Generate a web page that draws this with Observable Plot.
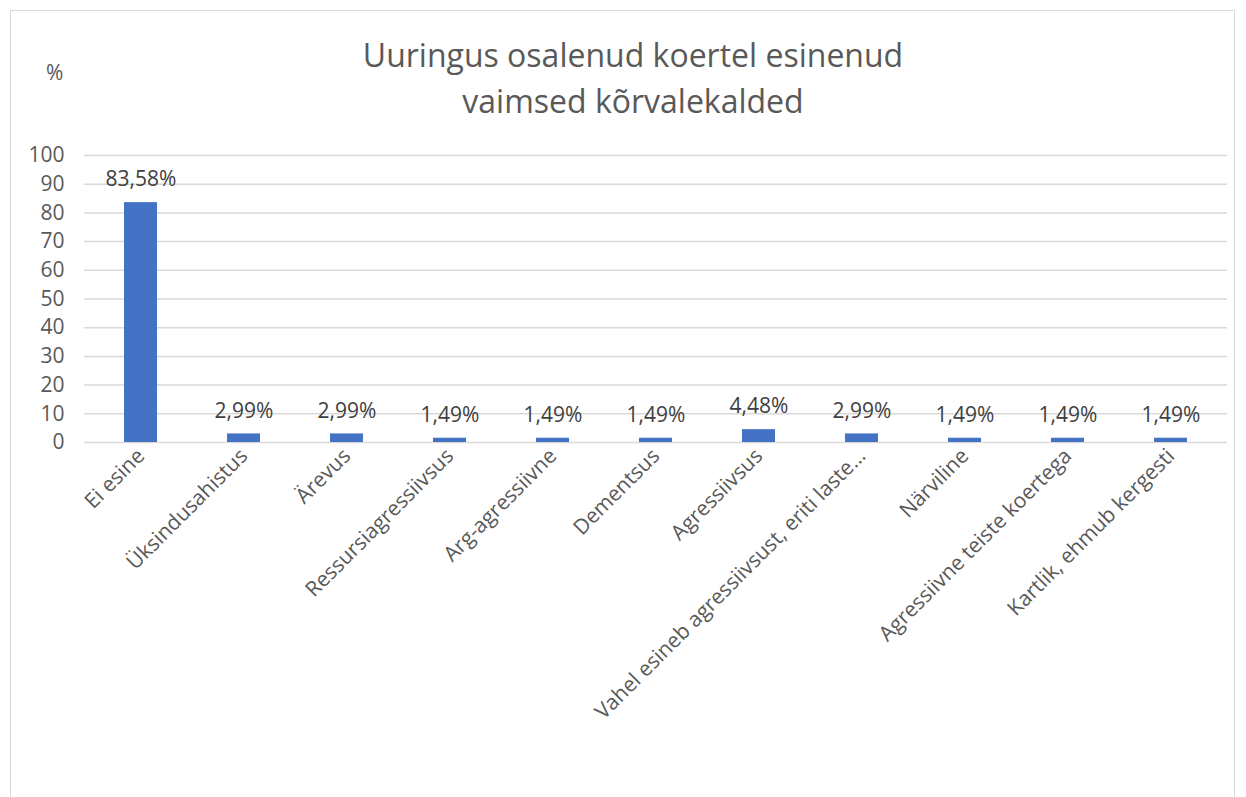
<!DOCTYPE html>
<html>
<head>
<meta charset="utf-8">
<script src="https://cdn.jsdelivr.net/npm/d3@7"></script>
<script src="https://cdn.jsdelivr.net/npm/@observablehq/plot@0.6"></script>
<style>
  html, body { margin: 0; padding: 0; background: #fff; }
  #wrap { position: relative; width: 1246px; height: 797px; overflow: hidden; font-family: "Open Sans", sans-serif; }
  #border { position: absolute; left: 10px; top: 10px; width: 1225px; height: 800px; border: 1px solid #d9d9d9; box-sizing: border-box; }
  #title { position: absolute; left: 0; width: 1266px; top: 32px; text-align: center; font-size: 32px; line-height: 46px; color: #595959; font-weight: 400; }
  #unit { position: absolute; left: 46px; top: 58px; font-size: 21px; color: #595959; }
  #chart { position: absolute; left: 0; top: 0; }
</style>
</head>
<body>
<div id="wrap">
  <div id="border"></div>
  <div id="chart"></div>
  <div id="title">Uuringus osalenud koertel esinenud<br>vaimsed kõrvalekalded</div>
  <div id="unit">%</div>
</div>
<script>
const categories = [
  "Ei esine",
  "Üksindusahistus",
  "Ärevus",
  "Ressursiagressiivsus",
  "Arg-agressiivne",
  "Dementsus",
  "Agressiivsus",
  "Vahel esineb agressiivsust, eriti laste…",
  "Närviline",
  "Agressiivne teiste koertega",
  "Kartlik, ehmub kergesti"
];
const values = [83.58, 2.99, 2.99, 1.49, 1.49, 1.49, 4.48, 2.99, 1.49, 1.49, 1.49];
const labels = ["83,58%", "2,99%", "2,99%", "1,49%", "1,49%", "1,49%", "4,48%", "2,99%", "1,49%", "1,49%", "1,49%"];
const yTicks = [0, 10, 20, 30, 40, 50, 60, 70, 80, 90, 100];

const data = categories.map((c, i) => ({category: c, value: values[i], label: labels[i]}));

const chart = Plot.plot({
  width: 1246,
  height: 797,
  marginLeft: 84,
  marginRight: 19,
  marginTop: 155,
  marginBottom: 355,
  style: { fontFamily: "'Open Sans', sans-serif", background: "transparent", overflow: "visible" },
  x: { domain: categories, paddingInner: 0.68, paddingOuter: 0.34, label: null },
  y: { domain: [0, 100], label: null },
  marks: [
    Plot.gridY(yTicks, { stroke: "#d9d9d9", strokeOpacity: 1, strokeWidth: 1.5 }),
    Plot.axisY(yTicks, { tickSize: 0, tickPadding: 20, fontSize: 21, fill: "#595959", label: null }),
    Plot.axisX({ tickSize: 0, tickRotate: -45, tickPadding: 10, fontSize: 21, fill: "#595959", label: null }),
    Plot.barY(data, { x: "category", y: "value", fill: "#4472c4" }),
    Plot.text(data, { x: "category", y: "value", text: "label", dy: -23, lineAnchor: "middle", fontSize: 21, fill: "#404040" })
  ]
});
document.getElementById("chart").appendChild(chart);
</script>
</body>
</html>
